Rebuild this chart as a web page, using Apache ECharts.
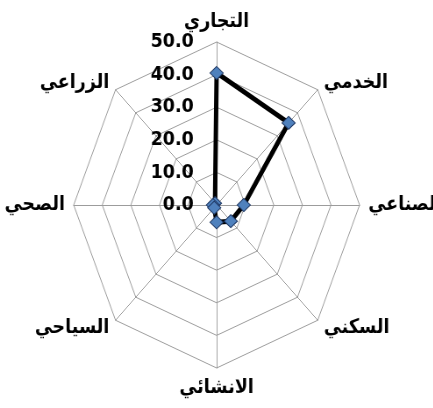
<!DOCTYPE html>
<html>
<head>
<meta charset="utf-8">
<script src="https://cdn.jsdelivr.net/npm/echarts@6/dist/echarts.min.js"></script>
<style>
  html, body { margin: 0; padding: 0; background: #fff; overflow: hidden; }
  #chart {
    width: 494px;
    height: 408px;
    transform: scaleX(0.877);
    transform-origin: 0 0;
  }
</style>
</head>
<body>
<div id="chart"></div>
<script>
// categories in clockwise order starting at the top
const categories = ['التجاري', 'الخدمي', 'الصناعي', 'السكني', 'الانشائي', 'السياحي', 'الصحي', 'الزراعي']
const values = [40.5, 35.6, 9.5, 7.0, 5.3, 1.2, 1.3, 0.8]
const tickLabels = ['0.0', '10.0', '20.0', '30.0', '40.0', '50.0']
const axisMax = 50

// echarts lays the radar out counter-clockwise, so reverse everything after the first
const order = [0].concat(categories.map((c, i) => i).slice(1).reverse())

const chart = echarts.init(document.getElementById('chart'))
chart.setOption({
  animation: false,
  radar: {
    center: [247, 205],
    radius: 163,
    shape: 'polygon',
    splitNumber: 5,
    nameGap: 10,
    axisName: {
      color: '#000',
      fontFamily: 'DejaVu Sans',
      fontWeight: 'bold',
      fontSize: 20
    },
    axisLine: { lineStyle: { color: '#9c9c9c', width: 1 } },
    splitLine: { lineStyle: { color: '#9c9c9c', width: 1 } },
    splitArea: { show: false },
    axisTick: { show: false },
    axisLabel: { show: false },
    indicator: order.map((idx, k) => {
      const ind = { name: categories[idx], min: 0, max: axisMax }
      if (k === 0) {
        ind.axisLabel = {
          show: true,
          color: '#000',
          fontFamily: 'DejaVu Sans',
          fontWeight: 'bold',
          fontSize: 20,
          margin: 26,
          formatter: v => tickLabels[Math.round(v / 10)]
        }
      }
      return ind
    })
  },
  series: [{
    type: 'radar',
    symbol: 'diamond',
    symbolSize: [15, 13],
    lineStyle: { color: '#000', width: 5 },
    itemStyle: { color: '#4f81bd', borderColor: '#1f3864', borderWidth: 1 },
    data: [{ value: order.map(idx => values[idx]) }]
  }]
})
</script>
</body>
</html>
